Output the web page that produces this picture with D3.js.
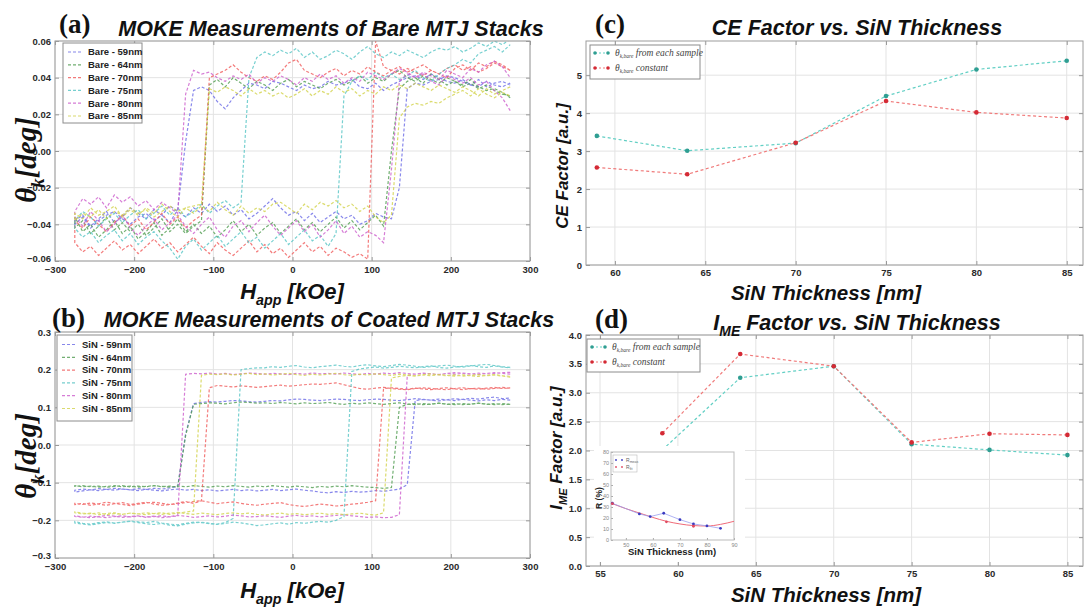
<!DOCTYPE html>
<html>
<head>
<meta charset="utf-8">
<script src="https://cdn.jsdelivr.net/npm/d3@7"></script>
<style>
  body { margin: 0; background: #fff; }
  svg { display: block; }
</style>
</head>
<body>
<svg id="fig" width="1089" height="607"></svg>
<script>
// ---------- data ----------
// applied field grid (kOe), one value per sweep step
const fieldGrid = [
  -275,-265,-255,-245,-235,-225,-215,-205,
  -195,-185,-175,-165,-155,-145,-135,-125,
  -115,-105,-95,-85,-75,-65,-55,-45,
  -35,-25,-15,-5,5,15,25,35,
  45,55,65,75,85,95,105,115,
  125,135,145,155,165,175,185,195,
  205,215,225,235,245,255,265,275
];

// Kerr rotation of bare stacks, millidegrees; "Asc" = field swept up, "Desc" = field swept down
const bare59Asc = [
  -38,-35,-41,-37,-33,-39,-36,-31,
  -34,-37,-32,-35,-30,-33,-36,-31,
  -34,-29,-33,-30,-35,-32,-37,-34,
  -30,-26,-31,-35,-33,-38,-34,-39,
  -36,-33,-37,-35,-40,-38,-34,-36,
  -37,-20,34,37,36,38,39,41,
  40,38,36,39,35,37,38,36];
const bare59Desc = [
  -40,-36,-42,-38,-35,-33,-37,-40,
  -36,-34,-38,-35,-39,-32,5,33,
  35,33,27,23,29,33,37,36,
  34,38,37,35,33,36,34,35,
  38,36,37,39,35,34,37,33,
  36,38,40,41,39,42,40,38,
  37,39,36,35,38,36,35,37];
const bare64Asc = [
  -36,-44,-40,-47,-43,-38,-45,-41,
  -48,-44,-39,-46,-42,-37,-44,-40,
  -45,-41,-47,-43,-38,-44,-40,-46,
  -42,-39,-45,-41,-37,-43,-39,-44,
  -40,-36,-42,-38,-43,-39,-35,-41,
  0,34,38,40,37,42,39,36,
  38,35,37,34,36,33,31,30];
const bare64Desc = [
  -42,-38,-45,-41,-36,-43,-39,-44,
  -40,-46,-42,-37,-44,-40,-45,-41,
  -38,36,39,35,40,37,34,38,
  36,33,37,39,35,38,36,34,
  37,39,36,38,41,37,40,38,
  42,44,40,38,41,39,37,40,
  38,36,39,35,33,34,32,29];
const bare70Asc = [
  -50,-55,-52,-57,-53,-49,-54,-51,
  -56,-52,-48,-53,-50,-55,-51,-47,
  -52,-56,-50,-54,-57,-53,-49,-55,
  -51,-56,-53,-58,-54,-50,-55,-52,
  -57,-53,-55,-58,-56,-59,60,46,
  44,42,45,43,41,44,42,40,
  45,47,44,48,46,49,47,44];
const bare70Desc = [
  -38,-42,-36,-40,-44,-39,-35,-41,
  -37,-43,-39,-34,-40,-36,-42,-38,
  -35,40,42,44,47,43,40,38,
  41,39,43,48,50,44,42,40,
  43,45,41,44,42,46,43,41,
  44,46,43,45,47,44,42,45,
  47,44,46,43,45,48,46,44];
const bare75Asc = [
  -42,-47,-44,-50,-46,-43,-49,-45,
  -51,-47,-44,-49,-53,-59,-52,-48,
  -54,-50,-46,-52,-48,-44,-50,-47,
  -53,-49,-45,-51,-47,-43,-49,-46,
  -52,-45,30,38,41,39,43,40,
  42,39,41,44,40,38,42,45,
  47,50,48,53,55,57,54,58];
const bare75Desc = [
  -38,-33,-36,-41,-37,-34,-39,-35,
  -32,-37,-34,-30,-35,-31,-36,-33,
  -29,-34,-30,-27,-31,-28,40,51,
  54,52,55,53,56,51,54,50,
  52,55,53,50,54,57,53,51,
  54,52,55,53,51,54,56,55,
  57,54,56,59,57,60,58,61];
const bare80Asc = [
  -36,-41,-33,-38,-44,-40,-35,-42,
  -46,-41,-37,-43,-39,-35,-41,-45,
  -40,-36,-43,-47,-41,-38,-44,-39,
  -35,-41,-46,-42,-38,-44,-40,-47,
  -43,-38,-45,-41,-47,-44,-46,-50,
  -10,38,42,40,43,41,39,44,
  42,40,45,43,47,49,46,40];
const bare80Desc = [
  -33,-26,-29,-25,-31,-24,-28,-25,
  -30,-27,-32,-28,-31,-34,31,44,
  42,43,40,38,41,39,42,37,
  40,38,41,39,36,40,38,42,
  39,41,37,40,38,43,41,39,
  42,45,43,40,42,38,36,41,
  39,37,40,36,38,33,29,22];
const bare85Asc = [
  -34,-37,-31,-35,-33,-30,-36,-32,
  -35,-31,-34,-29,-33,-36,-31,-34,
  -30,-33,-28,-32,-35,-30,-34,-31,
  -33,-29,-28,-31,-34,-29,-32,-28,
  -30,-27,-31,-29,-33,-30,-36,-39,
  -35,18,24,26,25,27,26,29,
  31,33,30,34,31,29,32,30];
const bare85Desc = [
  -38,-34,-36,-32,-37,-33,-35,-31,
  -34,-32,-36,-33,-30,-33,-31,-30,
  -29,34,32,35,33,30,34,31,
  33,30,32,29,31,34,30,33,
  31,35,32,34,30,33,31,35,
  33,36,34,37,35,33,36,34,
  32,35,33,30,34,31,33,35];

// Kerr rotation of SiN-coated stacks, millidegrees
const coated59Asc = [
  -125,-122,-119,-121,-118,-120,-117,-119,
  -121,-118,-120,-122,-119,-117,-120,-118,
  -121,-119,-122,-120,-118,-121,-119,-122,
  -120,-118,-121,-119,-117,-120,-122,-125,
  -127,-124,-126,-123,-125,-124,-121,-123,
  -120,-117,-105,118,121,119,122,120,
  123,121,124,122,125,127,123,125];
const coated59Desc = [
  -120,-117,-119,-116,-118,-115,-117,-119,
  -116,-118,-115,-117,-114,-110,30,110,
  113,115,114,116,118,117,115,114,
  116,118,117,120,122,121,119,118,
  120,122,121,119,118,120,122,121,
  119,118,120,123,121,119,117,120,
  118,121,119,117,120,118,121,119];
const coated64Asc = [
  -110,-108,-111,-109,-112,-110,-108,-111,
  -109,-111,-108,-110,-112,-109,-111,-108,
  -110,-112,-109,-111,-108,-110,-112,-109,
  -111,-108,-110,-112,-109,-111,-113,-110,
  -112,-109,-111,-108,-110,-112,-113,-115,
  -113,100,108,110,107,109,111,108,
  110,107,109,111,108,110,107,109];
const coated64Desc = [
  -108,-111,-109,-112,-110,-108,-111,-109,
  -112,-110,-108,-111,-109,-112,25,108,
  110,112,111,109,112,114,113,111,
  112,110,113,111,109,112,110,111,
  113,110,108,111,109,112,110,108,
  110,112,109,107,110,108,111,109,
  107,110,108,111,109,107,110,108];
const coated70Asc = [
  -158,-155,-160,-156,-152,-155,-158,-161,
  -157,-154,-152,-155,-158,-156,-153,-150,
  -148,-152,-156,-153,-151,-155,-158,-160,
  -157,-155,-153,-158,-161,-163,-160,-157,
  -159,-162,-160,-157,-155,-152,-148,150,
  152,150,148,151,149,147,150,152,
  149,147,150,148,151,153,150,152];
const coated70Desc = [
  -155,-158,-154,-157,-160,-156,-153,-158,
  -155,-152,-157,-160,-158,-154,-150,-155,
  -148,152,158,156,154,157,155,153,
  155,157,159,156,158,160,162,161,
  163,165,160,155,150,148,151,153,
  150,148,147,150,152,150,148,147,
  150,152,149,151,148,150,153,151];
const coated75Asc = [
  -203,-208,-210,-206,-204,-207,-205,-202,
  -204,-206,-203,-207,-210,-212,-208,-205,
  -206,-209,-211,-208,-205,-207,-210,-214,
  -212,-209,-207,-210,-206,-208,-205,-203,
  -205,-200,-190,195,202,205,207,204,
  206,209,207,205,208,210,206,204,
  207,209,211,208,206,210,207,205];
const coated75Desc = [
  -207,-210,-212,-209,-206,-208,-205,-203,
  -206,-209,-211,-208,-213,-215,-210,-207,
  -205,-208,-210,-206,-195,200,203,205,
  205,208,206,209,211,207,205,208,
  210,212,209,207,211,213,210,208,
  211,214,212,209,206,208,210,212,
  209,207,210,212,214,211,208,206];
const coated80Asc = [
  -188,-191,-193,-190,-187,-189,-192,-190,
  -188,-191,-189,-193,-190,-187,-189,-192,
  -190,-188,-191,-189,-186,-188,-191,-190,
  -188,-190,-192,-189,-187,-190,-188,-191,
  -189,-187,-185,-188,-190,-192,-191,-193,
  -192,-185,185,188,190,189,187,190,
  188,191,189,187,190,192,190,188];
const coated80Desc = [
  -190,-192,-189,-191,-193,-190,-188,-191,
  -189,-192,-190,-188,-191,-188,188,190,
  189,191,188,190,187,189,191,190,
  188,190,189,187,190,188,191,189,
  190,188,191,189,187,190,188,191,
  189,192,190,188,191,189,187,190,
  192,190,188,191,189,190,192,193];
const coated85Asc = [
  -178,-181,-183,-180,-185,-182,-184,-181,
  -183,-180,-182,-184,-181,-179,-182,-184,
  -181,-183,-185,-182,-180,-183,-181,-184,
  -186,-183,-181,-184,-182,-185,-183,-181,
  -184,-182,-185,-183,-181,-184,-186,-180,
  178,182,185,183,186,184,187,185,
  183,186,184,182,185,187,184,182];
const coated85Desc = [
  -180,-183,-181,-185,-182,-180,-184,-181,
  -183,-185,-182,-180,-184,-181,-178,-175,
  185,188,187,189,186,188,190,187,
  189,186,188,190,187,185,188,186,
  188,190,187,185,188,186,189,187,
  185,188,186,184,187,189,186,184,
  186,183,185,187,184,186,183,180];

const bareLabels = ["Bare - 59nm","Bare - 64nm","Bare - 70nm","Bare - 75nm","Bare - 80nm","Bare - 85nm"];
const coatedLabels = ["SiN - 59nm","SiN - 64nm","SiN - 70nm","SiN - 75nm","SiN - 80nm","SiN - 85nm"];

// CE and I_ME factors
const thickness = [59, 64, 70, 75, 80, 85];
const ceEachSample = [3.40, 3.01, 3.21, 4.45, 5.15, 5.38];
const ceConstant   = [2.57, 2.39, 3.22, 4.32, 4.02, 3.87];
const imeEachSample = [2.01, 3.26, 3.46, 2.11, 2.01, 1.92];
const imeConstant   = [2.30, 3.67, 3.46, 2.14, 2.29, 2.27];

// inset: reflectance vs SiN thickness
const insetThickness = [45, 55, 59, 64, 70, 75, 80, 85];
const insetMeasured  = [33.4, 23.7, 21.3, 24.3, 18.5, 14.6, 12.8, 10.6];
const insetFitPointsX = [45, 65, 75];
const insetFitPointsY = [33.0, 16.5, 12.5];
const insetCurveX = [45, 50, 55, 60, 65, 70, 75, 80, 85, 90];
const insetCurveY = [33.0, 28.5, 24.5, 20.5, 17.0, 14.6, 13.1, 12.7, 14.2, 17.0];

const xFieldTicks = [-300, -200, -100, 0, 100, 200, 300];
const yBareTicks = [-0.06, -0.04, -0.02, 0.00, 0.02, 0.04, 0.06];
const yCoatedTicks = [-0.3, -0.2, -0.1, 0.0, 0.1, 0.2, 0.3];
const xThickTicksC = [60, 65, 70, 75, 80, 85];
const yCeTicks = [0, 1, 2, 3, 4, 5];
const xThickTicksD = [55, 60, 65, 70, 75, 80, 85];
const yImeTicks = [0.0, 0.5, 1.0, 1.5, 2.0, 2.5, 3.0, 3.5, 4.0];

// ---------- styling ----------
const loopColors = ["#6a6ae6", "#4f9c4f", "#f05a5a", "#55c4c4", "#cc5ccc", "#d2d24a"];
const teal = "#2f9e92", tealLine = "#62cfc4";
const red = "#d42a35", redLine = "#f07a7a";
const SANS = "'Liberation Sans', Arial, sans-serif";
const SERIF = "'Liberation Serif', 'Times New Roman', serif";

const svg = d3.select("#fig");
const defs = svg.append("defs");
let clipId = 0;

function axesFrame(g, box, x, y, xTicks, yTicks, xFmt, yFmt, xPad) {
  g.append("g").selectAll("line.gx").data(xTicks).join("line").attr("class", "gx")
    .attr("x1", d => x(d)).attr("x2", d => x(d)).attr("y1", box.y0).attr("y2", box.y1)
    .attr("stroke", "#e3e3e3").attr("stroke-width", 1);
  g.append("g").selectAll("line.gy").data(yTicks).join("line").attr("class", "gy")
    .attr("y1", d => y(d)).attr("y2", d => y(d)).attr("x1", box.x0).attr("x2", box.x1)
    .attr("stroke", "#e3e3e3").attr("stroke-width", 1);

  const styleAxis = (sel, withText) => {
    sel.select(".domain").remove();
    sel.selectAll(".tick line").attr("stroke", "#999");
    sel.selectAll(".tick text")
      .attr("font-family", SANS).attr("font-weight", "bold").attr("font-size", 9.5)
      .attr("fill", "#2a2a2a").style("display", withText ? null : "none");
  };
  g.append("g").attr("transform", `translate(0,${box.y1})`)
    .call(d3.axisBottom(x).tickValues(xTicks).tickFormat(xFmt).tickSizeInner(-4).tickSizeOuter(0).tickPadding(xPad || 4))
    .call(s => styleAxis(s, true));
  g.append("g").attr("transform", `translate(0,${box.y0})`)
    .call(d3.axisTop(x).tickValues(xTicks).tickSizeInner(-4).tickSizeOuter(0))
    .call(s => styleAxis(s, false));
  const left = g.append("g").attr("transform", `translate(${box.x0},0)`)
    .call(d3.axisLeft(y).tickValues(yTicks).tickFormat(yFmt).tickSizeInner(-4).tickSizeOuter(0).tickPadding(4))
    .call(s => styleAxis(s, true));
  g.append("g").attr("transform", `translate(${box.x1},0)`)
    .call(d3.axisRight(y).tickValues(yTicks).tickSizeInner(-4).tickSizeOuter(0))
    .call(s => styleAxis(s, false));

  const id = "clip" + (clipId++);
  defs.append("clipPath").attr("id", id).append("rect")
    .attr("x", box.x0).attr("y", box.y0).attr("width", box.x1 - box.x0).attr("height", box.y1 - box.y0);
  return {id, left};
}

function frameRect(g, box) {
  g.append("rect").attr("x", box.x0).attr("y", box.y0)
    .attr("width", box.x1 - box.x0).attr("height", box.y1 - box.y0)
    .attr("fill", "none").attr("stroke", "#9c9c9c").attr("stroke-width", 1);
}

function addText(g, x, y, parts, opts) {
  const t = g.append("text").attr("x", x).attr("y", y)
    .attr("font-family", opts.family).attr("font-size", opts.size)
    .attr("font-weight", opts.weight || "bold").attr("font-style", opts.style || "normal")
    .attr("fill", opts.fill || "#111").attr("text-anchor", opts.anchor || "middle");
  if (opts.rotate) t.attr("transform", `rotate(-90,${x},${y})`);
  parts.forEach(p => {
    const sp = t.append("tspan").text(p.t);
    if (p.sub) sp.attr("font-size", opts.size * (p.scale || 0.65)).attr("dy", opts.size * 0.28);
    if (p.back) sp.attr("dy", -opts.size * 0.28);
  });
  return t;
}

// ---------- hysteresis panels ----------
function hysteresisPanel(box, yDomain, yTicks, yFmt, series, labels, legendBox) {
  const g = svg.append("g");
  const x = d3.scaleLinear().domain([-300, 300]).range([box.x0, box.x1]);
  const y = d3.scaleLinear().domain(yDomain).range([box.y1, box.y0]);
  const ax = axesFrame(g, box, x, y, xFieldTicks, yTicks, d3.format("d"), yFmt, 5);
  // lift the lowest y label a little so it clears the first field label
  ax.left.selectAll(".tick text").filter(d => d === yDomain[0]).attr("dy", "0.05em");

  const line = d3.line().x(d => x(d[0])).y(d => y(d[1]));
  const plot = g.append("g").attr("clip-path", `url(#${ax.id})`);
  series.forEach((s, i) => {
    // downward sweep from +275 to -275, then upward sweep back to +275
    const down = fieldGrid.map((h, k) => [h, s.desc[k] / 1000]).reverse();
    const up = fieldGrid.map((h, k) => [h, s.asc[k] / 1000]);
    plot.append("path").datum(down.concat(up))
      .attr("d", line).attr("fill", "none")
      .attr("stroke", loopColors[i]).attr("stroke-width", 1.2)
      .attr("stroke-dasharray", "3,2").attr("opacity", 0.8);
  });
  frameRect(g, box);

  // legend
  const lg = g.append("g");
  lg.append("rect").attr("x", legendBox.x).attr("y", legendBox.y)
    .attr("width", legendBox.w).attr("height", legendBox.h)
    .attr("fill", "#fff").attr("stroke", "#8c8c8c").attr("stroke-width", 1);
  labels.forEach((lab, i) => {
    const yy = legendBox.y + legendBox.first + i * legendBox.step;
    lg.append("line").attr("x1", legendBox.x + 5).attr("x2", legendBox.x + 20)
      .attr("y1", yy).attr("y2", yy).attr("stroke", loopColors[i])
      .attr("stroke-width", 1.2).attr("stroke-dasharray", "3,2").attr("opacity", 0.8);
    lg.append("text").attr("x", legendBox.x + legendBox.tx).attr("y", yy + 3.3)
      .attr("font-family", SANS).attr("font-weight", "bold").attr("font-size", 9.5)
      .attr("fill", "#222").text(lab);
  });
  return g;
}

const boxA = {x0: 55, x1: 530, y0: 41, y1: 261};
const boxB = {x0: 55, x1: 530, y0: 332, y1: 558};
const boxC = {x0: 586, x1: 1083, y0: 41, y1: 265};
const boxD = {x0: 586, x1: 1083, y0: 335, y1: 566};

const bareSeries = [
  {asc: bare59Asc, desc: bare59Desc}, {asc: bare64Asc, desc: bare64Desc},
  {asc: bare70Asc, desc: bare70Desc}, {asc: bare75Asc, desc: bare75Desc},
  {asc: bare80Asc, desc: bare80Desc}, {asc: bare85Asc, desc: bare85Desc}];
const coatedSeries = [
  {asc: coated59Asc, desc: coated59Desc}, {asc: coated64Asc, desc: coated64Desc},
  {asc: coated70Asc, desc: coated70Desc}, {asc: coated75Asc, desc: coated75Desc},
  {asc: coated80Asc, desc: coated80Desc}, {asc: coated85Asc, desc: coated85Desc}];

hysteresisPanel(boxA, [-0.06, 0.06], yBareTicks, d3.format(".2f"), bareSeries, bareLabels,
  {x: 63, y: 43, w: 79, h: 80, first: 9, step: 12.8, tx: 25});
hysteresisPanel(boxB, [-0.3, 0.3], yCoatedTicks, d3.format(".1f"), coatedSeries, coatedLabels,
  {x: 57, y: 335, w: 75, h: 86, first: 9.5, step: 12.8, tx: 25});

// ---------- factor panels ----------
function factorPanel(box, xDomain, xTicks, yDomain, yTicks, yFmt, each, constant, legendBox) {
  const g = svg.append("g");
  const x = d3.scaleLinear().domain(xDomain).range([box.x0, box.x1]);
  const y = d3.scaleLinear().domain(yDomain).range([box.y1, box.y0]);
  const ax = axesFrame(g, box, x, y, xTicks, yTicks, d3.format("d"), yFmt, 4);
  const plot = g.append("g").attr("clip-path", `url(#${ax.id})`);
  const line = d3.line().x(d => x(d[0])).y(d => y(d[1]));
  [[each, tealLine, teal], [constant, redLine, red]].forEach(([vals, lc, pc]) => {
    const pts = thickness.map((t, i) => [t, vals[i]]);
    plot.append("path").datum(pts).attr("d", line).attr("fill", "none")
      .attr("stroke", lc).attr("stroke-width", 1.2).attr("stroke-dasharray", "3,2.5");
    plot.selectAll(null).data(pts).join("circle")
      .attr("cx", d => x(d[0])).attr("cy", d => y(d[1])).attr("r", 2.3).attr("fill", pc);
  });
  frameRect(g, box);

  const lg = g.append("g");
  lg.append("rect").attr("x", legendBox.x).attr("y", legendBox.y)
    .attr("width", legendBox.w).attr("height", legendBox.h)
    .attr("fill", "#fff").attr("stroke", "#8c8c8c").attr("stroke-width", 1);
  const entries = [[tealLine, teal, "from each sample"], [redLine, red, "constant"]];
  entries.forEach(([lc, pc, txt], i) => {
    const yy = legendBox.y + legendBox.first + i * legendBox.step;
    const x1 = legendBox.x + 5, x2 = legendBox.x + 18;
    lg.append("line").attr("x1", x1).attr("x2", x2).attr("y1", yy).attr("y2", yy)
      .attr("stroke", lc).attr("stroke-width", 1.2).attr("stroke-dasharray", "2,2");
    lg.selectAll(null).data([x1, x2]).join("circle")
      .attr("cx", d => d).attr("cy", yy).attr("r", 1.8).attr("fill", pc);
    const t = lg.append("text").attr("x", legendBox.x + 25).attr("y", yy + 3)
      .attr("font-family", SERIF).attr("font-style", "italic").attr("font-size", 9.5).attr("fill", "#444");
    t.append("tspan").text("θ");
    t.append("tspan").text("k,bare").attr("font-size", 5.5).attr("dy", 2);
    t.append("tspan").text(" " + txt).attr("dy", -2);
  });
  return {g, x, y};
}

factorPanel(boxC, [58.4, 85.9], xThickTicksC, [0, 5.9], yCeTicks, d3.format("d"),
  ceEachSample, ceConstant, {x: 590, y: 45, w: 110, h: 34, first: 8, step: 15});
factorPanel(boxD, [54.1, 86], xThickTicksD, [0, 4], yImeTicks, d3.format(".1f"),
  imeEachSample, imeConstant, {x: 587, y: 339, w: 113, h: 33, first: 8, step: 15});

// ---------- inset in panel (d) ----------
(function inset() {
  const g = svg.append("g");
  g.append("rect").attr("x", 594).attr("y", 446).attr("width", 151).attr("height", 116).attr("fill", "#fff");
  const ib = {x0: 611, x1: 734, y0: 452, y1: 540};
  const x = d3.scaleLinear().domain([44.5, 90]).range([ib.x0, ib.x1]);
  const y = d3.scaleLinear().domain([0, 80]).range([ib.y1, ib.y0]);
  const ax = (sel) => {
    sel.select(".domain").remove();
    sel.selectAll(".tick line").attr("stroke", "#aaa");
    sel.selectAll(".tick text").attr("font-family", SANS).attr("font-size", 5.5).attr("fill", "#888");
  };
  g.append("g").attr("transform", `translate(0,${ib.y1})`)
    .call(d3.axisBottom(x).tickValues([50, 60, 70, 80, 90]).tickSizeInner(-2).tickSizeOuter(0).tickPadding(3)).call(ax);
  g.append("g").attr("transform", `translate(${ib.x0},0)`)
    .call(d3.axisLeft(y).tickValues(d3.range(0, 81, 10)).tickSizeInner(-2).tickSizeOuter(0).tickPadding(2)).call(ax);
  g.append("rect").attr("x", ib.x0).attr("y", ib.y0).attr("width", ib.x1 - ib.x0).attr("height", ib.y1 - ib.y0)
    .attr("fill", "none").attr("stroke", "#bbb");

  const curve = d3.line().x(d => x(d[0])).y(d => y(d[1])).curve(d3.curveMonotoneX);
  g.append("path").datum(insetCurveX.map((v, i) => [v, insetCurveY[i]]))
    .attr("d", curve).attr("fill", "none").attr("stroke", "#f06a78").attr("stroke-width", 1);
  g.append("path").datum(insetThickness.map((v, i) => [v, insetMeasured[i]]))
    .attr("d", d3.line().x(d => x(d[0])).y(d => y(d[1]))).attr("fill", "none")
    .attr("stroke", "#9aa0f0").attr("stroke-width", 0.8);
  g.selectAll(null).data(insetThickness.map((v, i) => [v, insetMeasured[i]])).join("circle")
    .attr("cx", d => x(d[0])).attr("cy", d => y(d[1])).attr("r", 1.4).attr("fill", "#3a3ac0");
  g.selectAll(null).data(insetFitPointsX.map((v, i) => [v, insetFitPointsY[i]])).join("circle")
    .attr("cx", d => x(d[0])).attr("cy", d => y(d[1])).attr("r", 1.4).attr("fill", "#e04a60");

  // inset legend
  g.append("rect").attr("x", 613).attr("y", 455).attr("width", 24).attr("height", 17)
    .attr("fill", "#fff").attr("stroke", "#bbb").attr("stroke-width", 0.6);
  [["#3a3ac0", "meas"], ["#e04a60", "fit"]].forEach(([c, sub], i) => {
    const yy = 460 + i * 7;
    g.selectAll(null).data([616, 622]).join("circle").attr("cx", d => d).attr("cy", yy).attr("r", 0.9).attr("fill", c);
    const t = g.append("text").attr("x", 626).attr("y", yy + 1.8).attr("font-family", SANS)
      .attr("font-size", 5).attr("fill", "#666");
    t.append("tspan").text("R");
    t.append("tspan").text(sub).attr("font-size", 3.5).attr("dy", 1);
  });

  addText(g, 602, 498, [{t: "R (%)"}], {family: SANS, size: 8.5, rotate: true, fill: "#222"});
  addText(g, 672, 555, [{t: "SiN Thickness (nm)"}], {family: SANS, size: 9.5, fill: "#222"});
})();

// ---------- titles and axis labels ----------
const T = svg.append("g");
const panelTag = {family: SERIF, size: 27, anchor: "start", fill: "#111"};
addText(T, 59, 33, [{t: "(a)"}], panelTag);
addText(T, 52, 327, [{t: "(b)"}], panelTag);
addText(T, 595, 33, [{t: "(c)"}], panelTag);
addText(T, 595, 328, [{t: "(d)"}], panelTag);

const titleStyle = {family: SANS, size: 21.5, style: "italic", fill: "#111"};
addText(T, 331, 36, [{t: "MOKE Measurements of Bare MTJ Stacks"}], titleStyle);
addText(T, 329, 327, [{t: "MOKE Measurements of Coated MTJ Stacks"}], titleStyle);
addText(T, 857, 35, [{t: "CE Factor vs. SiN Thickness"}], titleStyle);
addText(T, 857, 330, [{t: "I"}, {t: "ME", sub: true}, {t: " Factor vs. SiN Thickness", back: true}], titleStyle);

const thetaStyle = {family: SERIF, size: 29, style: "italic", rotate: true, fill: "#111"};
addText(T, 36, 160, [{t: "θ"}, {t: "k", sub: true}, {t: "[deg]", back: true}], thetaStyle);
addText(T, 36, 456, [{t: "θ"}, {t: "k", sub: true}, {t: "[deg]", back: true}], thetaStyle);

const axisLabel = {family: SANS, size: 22, style: "italic", fill: "#111"};
addText(T, 292, 299, [{t: "H"}, {t: "app", sub: true}, {t: " [kOe]", back: true}], axisLabel);
addText(T, 292, 598, [{t: "H"}, {t: "app", sub: true}, {t: " [kOe]", back: true}], axisLabel);
const thickLabel = {family: SANS, size: 20.5, style: "italic", fill: "#111"};
addText(T, 826, 300, [{t: "SiN Thickness [nm]"}], thickLabel);
addText(T, 826, 602, [{t: "SiN Thickness [nm]"}], thickLabel);

const factorLabel = {family: SANS, size: 17, style: "italic", rotate: true, fill: "#111"};
addText(T, 568, 166, [{t: "CE Factor [a.u.]"}], factorLabel);
addText(T, 562, 448, [{t: "I"}, {t: "ME", sub: true}, {t: " Factor [a.u.]", back: true}], factorLabel);
</script>
</body>
</html>
